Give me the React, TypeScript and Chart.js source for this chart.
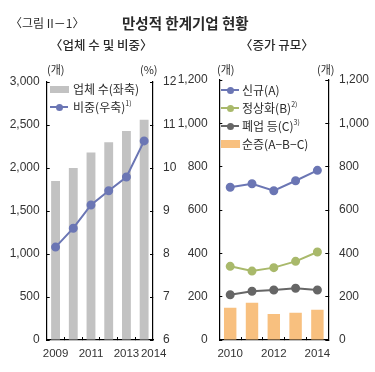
import React, { useEffect, useRef } from "react";
import { Chart, registerables } from "chart.js";
Chart.register(...registerables);

// ---- Data ----
const leftYears = ["2009", "2010", "2011", "2012", "2013", "2014"];
const leftTickLabels = ["2009", "", "2011", "", "2013", "2014"];
const firmCounts = [1850, 2000, 2180, 2300, 2430, 2560];
const firmShare = [8.16, 8.6, 9.14, 9.47, 9.79, 10.63];

const rightYears = ["2010", "2011", "2012", "2013", "2014"];
const rightTickLabels = ["2010", "", "2012", "", "2014"];
const newA = [705, 721, 689, 735, 783];
const normalizedB = [340, 318, 334, 363, 406];
const closedC = [209, 225, 231, 239, 231];
const netChange = [149, 172, 120, 126, 140];

const BLUE = "#6b76b4";
const GREEN = "#a9b96b";
const DARK = "#666666";
const ORANGE = "#f8c07f";
const GRAY = "#c2c2c2";

const Y_FONT = { family: "'Liberation Sans', Arial, sans-serif", size: 12 };
const X_FONT = { family: "'Liberation Sans', Arial, sans-serif", size: 11.5 };
const KR = "'Noto Sans CJK KR', 'Noto Sans', sans-serif";

function axisGrid() {
  return { display: true, drawOnChartArea: false, drawTicks: true, tickLength: -3, color: "#000", lineWidth: 1 };
}
const border = { display: true, color: "#000", width: 1.2 };
const NBSP6 = "\u00A0\u00A0\u00A0\u00A0\u00A0\u00A0";

function LeftChart() {
  const ref = useRef<HTMLCanvasElement>(null);
  useEffect(() => {
    const chart = new Chart(ref.current!, {
      type: "bar",
      data: {
        labels: leftYears,
        datasets: [
          { type: "line", label: "비중(우축)", data: firmShare, yAxisID: "y1", borderColor: BLUE, backgroundColor: BLUE, pointBackgroundColor: BLUE, pointBorderColor: BLUE, pointRadius: 3.5, borderWidth: 2, order: 0 } as any,
          { type: "bar", label: "업체 수(좌축)", data: firmCounts, yAxisID: "y", backgroundColor: GRAY, barPercentage: 0.5, categoryPercentage: 1, order: 1 },
        ],
      },
      options: {
        responsive: false,
        animation: false,
        layout: { padding: { top: 82, left: 0, right: 0, bottom: 0 } },
        plugins: { legend: { display: false }, tooltip: { enabled: false } },
        scales: {
          x: {
            grid: { ...axisGrid(), offset: true },
            border,
            ticks: {
              font: X_FONT, color: "#333", autoSkip: false, maxRotation: 0, padding: 10,
              // last label nudged right so it does not collide with its neighbour (as in the reference)
              callback: (_v: any, i: number) => (i === leftTickLabels.length - 1 ? NBSP6 + leftTickLabels[i] : leftTickLabels[i]),
            },
            afterFit: (s: any) => { s.height = 32; },
          },
          y: {
            position: "left",
            min: 0, max: 3000,
            grid: axisGrid(),
            border,
            ticks: { font: Y_FONT, color: "#333", stepSize: 500, padding: 10, callback: (v: any) => Number(v).toLocaleString("en-US") },
            afterFit: (s: any) => { s.width = 46.7; },
          },
          y1: {
            position: "right",
            min: 6, max: 12,
            grid: axisGrid(),
            border,
            ticks: { font: Y_FONT, color: "#333", stepSize: 1, padding: 13 },
            afterFit: (s: any) => { s.width = 32; },
          },
        },
      } as any,
    });
    return () => chart.destroy();
  }, []);
  return <canvas ref={ref} width={185} height={372} style={{ position: "absolute", left: 0, top: 0 }} />;
}

function RightChart() {
  const ref = useRef<HTMLCanvasElement>(null);
  useEffect(() => {
    const lineDs = (label: string, data: number[], color: string) => ({
      type: "line", label, data, yAxisID: "y", borderColor: color, backgroundColor: color, pointBackgroundColor: color, pointBorderColor: color, pointRadius: 3.5, borderWidth: 2, order: 0,
    });
    const chart = new Chart(ref.current!, {
      type: "bar",
      data: {
        labels: rightYears,
        datasets: [
          lineDs("신규(A)", newA, BLUE) as any,
          lineDs("정상화(B)", normalizedB, GREEN) as any,
          lineDs("폐업 등(C)", closedC, DARK) as any,
          { type: "bar", label: "순증(A-B-C)", data: netChange, yAxisID: "y", backgroundColor: ORANGE, barPercentage: 0.57, categoryPercentage: 1, order: 1 },
        ],
      },
      options: {
        responsive: false,
        animation: false,
        layout: { padding: { top: 80, left: 0, right: 0, bottom: 0 } },
        plugins: { legend: { display: false }, tooltip: { enabled: false } },
        scales: {
          x: {
            grid: { ...axisGrid(), offset: true },
            border,
            ticks: { font: X_FONT, color: "#333", autoSkip: false, maxRotation: 0, padding: 10, callback: (_v: any, i: number) => rightTickLabels[i] },
            afterFit: (s: any) => { s.height = 32; },
          },
          y: {
            position: "left",
            min: 0, max: 1200,
            grid: axisGrid(),
            border,
            ticks: { font: Y_FONT, color: "#333", stepSize: 200, padding: 14.6, callback: (v: any) => Number(v).toLocaleString("en-US") },
            afterFit: (s: any) => { s.width = 44.3; },
          },
          y1: {
            position: "right",
            min: 0, max: 1200,
            grid: axisGrid(),
            border,
            ticks: { font: Y_FONT, color: "#333", stepSize: 200, padding: 13.7, callback: (v: any) => Number(v).toLocaleString("en-US") },
            afterFit: (s: any) => { s.width = 46.7; },
          },
        },
      } as any,
    });
    return () => chart.destroy();
  }, []);
  return <canvas ref={ref} width={200} height={372} style={{ position: "absolute", left: 175, top: 0 }} />;
}

const txt = (left: number, top: number, size: number, extra: React.CSSProperties = {}): React.CSSProperties => ({
  position: "absolute", left, top, fontSize: size, fontFamily: KR, color: "#2a2a2a", whiteSpace: "nowrap", lineHeight: 1, ...extra,
});

function LineMark({ left, top, color }: { left: number; top: number; color: string }) {
  return (
    <div style={{ position: "absolute", left, top: top - 1, width: 18, height: 2, background: color }}>
      <div style={{ position: "absolute", left: 5.5, top: -2.5, width: 7, height: 7, borderRadius: "50%", background: color }} />
    </div>
  );
}

export default function App() {
  useEffect(() => {
    document.body.style.margin = "0";
  }, []);
  const sup: React.CSSProperties = { fontSize: 7, verticalAlign: "top", position: "relative", top: -1 };
  return (
    <div style={{ position: "relative", width: 375, height: 372, background: "#fff", overflow: "hidden" }}>
      <LeftChart />
      <RightChart />
      <div style={txt(10, 17, 12)}>〈그림 II－1〉</div>
      <div style={txt(122, 16, 14.5, { fontWeight: 700 })}>만성적 한계기업 현황</div>
      <div style={txt(50, 39, 12.5, { fontWeight: 500 })}>〈업체 수 및 비중〉</div>
      <div style={txt(240, 39, 12.5, { fontWeight: 500 })}>〈증가 규모〉</div>

      <div style={txt(47, 64, 11)}>(개)</div>
      <div style={txt(140, 64, 11)}>(%)</div>
      <div style={txt(217, 64, 11)}>(개)</div>
      <div style={txt(317, 64, 11)}>(개)</div>

      {/* left legend */}
      <div style={{ position: "absolute", left: 50, top: 86, width: 19, height: 7, background: GRAY }} />
      <div style={txt(73, 83, 12)}>업체 수(좌축)</div>
      <LineMark left={50} top={107} color={BLUE} />
      <div style={txt(73, 101, 12)}>비중(우축)<span style={sup}>1)</span></div>

      {/* right legend */}
      <LineMark left={221} top={90} color={BLUE} />
      <div style={txt(242, 84, 12)}>신규(A)</div>
      <LineMark left={221} top={108} color={GREEN} />
      <div style={txt(242, 102, 12)}>정상화(B)<span style={sup}>2)</span></div>
      <LineMark left={221} top={126} color={DARK} />
      <div style={txt(242, 120, 12)}>폐업 등(C)<span style={sup}>3)</span></div>
      <div style={{ position: "absolute", left: 221, top: 140, width: 19, height: 8, background: ORANGE }} />
      <div style={txt(242, 138, 12)}>순증(A−B−C)</div>
    </div>
  );
}
